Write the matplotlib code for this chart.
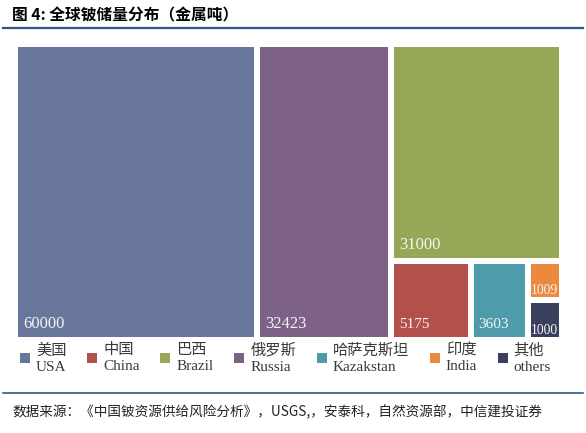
import matplotlib
matplotlib.use('Agg')
import matplotlib.pyplot as plt
from matplotlib.patches import Rectangle, Patch

# ── Datos ─────────────────────────────────────────────────────────────────────
names_cn = ['美国', '中国', '巴西', '俄罗斯', '哈萨克斯坦', '印度', '其他']
names_en = ['USA', 'China', 'Brazil', 'Russia', 'Kazakstan', 'India', 'others']
reserves = [60000, 5175, 31000, 32423, 3603, 1009, 1000]

COLORS = ['#67769A', '#B4504C', '#97A758', '#7E6186', '#4E9CAB', '#EB8A3F', '#3B3F5E']

# estructura del treemap: 'h' = lado a lado, 'v' = apilado (primero arriba)
TREE = ('h', [0, 3, ('v', [2, ('h', [1, 4, ('v', [5, 6])])])])

TITLE = '图 4: 全球铍储量分布（金属吨）'
SOURCE = '数据来源：《中国铍资源供给风险分析》，USGS,，安泰科，自然资源部，中信建投证券'

W_PX, H_PX = 586, 433
GAP = 6
BLUE = '#2B5A86'


def node_value(node):
    if isinstance(node, int):
        return reserves[node]
    return sum(node_value(k) for k in node[1])


def layout(node, x, y, w, h, out):
    """Reparte el espacio descontando el hueco de cada hijo, así el área
    visible de cada rectángulo queda proporcional dentro de su grupo."""
    if isinstance(node, int):
        out[node] = (x, y, w, h)
        return
    direction, kids = node
    total = node_value(node)
    n = len(kids)
    if direction == 'h':
        free = w - n * GAP
        cx = x
        for k in kids:
            kw = GAP + free * node_value(k) / total
            layout(k, cx, y, kw, h, out)
            cx += kw
    else:
        free = h - n * GAP
        cy = y + h
        for k in kids:
            kh = GAP + free * node_value(k) / total
            cy -= kh
            layout(k, x, cy, w, kh, out)


def main():
    fig = plt.figure(figsize=(W_PX / 100, H_PX / 100), dpi=100)
    fig.patch.set_facecolor('white')

    # área del treemap en píxeles
    left, right, top, bottom = 18, 559, 47, 337
    aw, ah = right - left, bottom - top
    ax = fig.add_axes([left / W_PX, 1 - bottom / H_PX, aw / W_PX, ah / H_PX])
    ax.set_axis_off()

    W, H = aw + GAP, ah + GAP
    rects = {}
    layout(TREE, 0, 0, W, H, rects)

    for i, (x, y, w, h) in rects.items():
        rx, ry, rw, rh = x + GAP / 2, y + GAP / 2, w - GAP, h - GAP
        ax.add_patch(Rectangle((rx, ry), rw, rh, facecolor=COLORS[i], edgecolor='none'))
        tiny = rw < 40
        big = rw > 100
        ax.text(rx + (0.5 if tiny else 5), ry + (3 if tiny else 9), str(reserves[i]),
                ha='left', va='baseline', color='#F4F4F4',
                fontsize=12 if big else (9.8 if tiny else 11), family='Liberation Serif')

    ax.set_xlim(GAP / 2, W - GAP / 2)
    ax.set_ylim(GAP / 2, H - GAP / 2)

    # ── Título y líneas ───────────────────────────────────────────────────────
    fig.text(12 / W_PX, 1 - 15 / H_PX, TITLE, ha='left', va='center',
             fontsize=11.3, fontweight='bold', family=['Noto Sans CJK SC', 'DejaVu Sans'])
    fig.add_artist(plt.Line2D([3 / W_PX, 583 / W_PX], [1 - 28 / H_PX] * 2,
                              color=BLUE, linewidth=1.6))
    fig.add_artist(plt.Line2D([3 / W_PX, 583 / W_PX], [1 - 393 / H_PX] * 2,
                              color=BLUE, linewidth=1.2))
    fig.text(12 / W_PX, 1 - 412 / H_PX, SOURCE, ha='left', va='center',
             fontsize=9.8, fontstyle='italic', color='#222222',
             family=['Noto Sans CJK SC', 'DejaVu Sans'])

    # ── Leyenda ───────────────────────────────────────────────────────────────
    handles = [Patch(facecolor=c, edgecolor='none') for c in COLORS]
    labels = [f'{c}\n{e}' for c, e in zip(names_cn, names_en)]
    leg = fig.legend(handles, labels, ncol=7, loc='upper left',
                     bbox_to_anchor=(14 / W_PX, 1 - 337 / H_PX),
                     frameon=False, handlelength=0.65, handleheight=0.65,
                     handletextpad=0.4, columnspacing=1.35, borderaxespad=0,
                     prop={'family': ['Liberation Serif', 'Noto Sans CJK SC'], 'size': 11})
    for t in leg.get_texts():
        t.set_linespacing(1.3)
        t.set_color('#3A3A3A')

    fig.savefig('out.png', dpi=100, facecolor='white')


if __name__ == '__main__':
    main()
